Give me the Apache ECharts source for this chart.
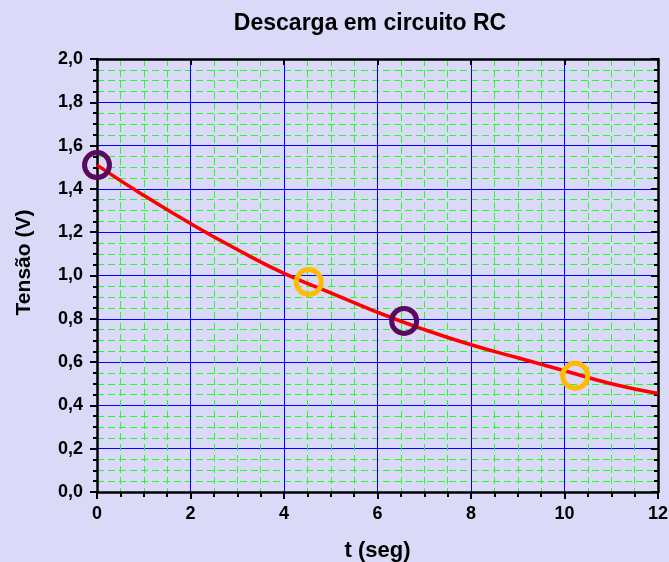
<!DOCTYPE html>
<html>
<head>
<meta charset="utf-8">
<script src="https://cdn.jsdelivr.net/npm/echarts@6/dist/echarts.min.js"></script>
<style>
  html, body { margin: 0; padding: 0; background: #DADAF8; overflow: hidden; }
  #chart { width: 669px; height: 562px; }
</style>
</head>
<body>
<div id="chart"></div>
<script>
// Discharge curve of the capacitor, sampled along the fitted line
const curveT = [0, 1, 2, 3, 4, 5, 6, 7, 8, 9, 10, 11, 12];
const curveV = [1.51, 1.37, 1.24, 1.12, 1.01, 0.92, 0.83, 0.75, 0.68, 0.62, 0.56, 0.50, 0.455];

// Measured points, two groups
const purpleT = [0, 6.57];
const purpleV = [1.51, 0.79];
const orangeT = [4.53, 10.23];
const orangeV = [0.97, 0.537];

const xTicks = [0, 2, 4, 6, 8, 10, 12];
const yTicks = [0.0, 0.2, 0.4, 0.6, 0.8, 1.0, 1.2, 1.4, 1.6, 1.8, 2.0];

const zip = (a, b) => a.map((v, i) => [v, b[i]]);
const font = '"Liberation Sans", Arial, sans-serif';

const chart = echarts.init(document.getElementById('chart'), null, { renderer: 'canvas' });

const axisLine = { show: true, onZero: false, lineStyle: { color: '#000', width: 2.5 } };
const minorGrid = { show: true, lineStyle: { color: '#22FF22', width: 1, type: [7, 4] } };

chart.setOption({
  backgroundColor: '#DADAF8',
  animation: false,
  title: {
    text: 'Descarga em circuito RC',
    left: 365, top: 7, textAlign: 'center',
    textStyle: { fontFamily: font, fontSize: 23, fontWeight: 'bold', color: '#000' }
  },
  grid: { left: 97, right: 11, top: 59, bottom: 70, containLabel: false, outerBoundsMode: 'none' },
  xAxis: [{
    type: 'value', min: xTicks[0], max: xTicks[xTicks.length - 1], interval: 2,
    name: 't (seg)', nameLocation: 'middle', nameGap: 48,
    nameTextStyle: { fontFamily: font, fontSize: 22, fontWeight: 'bold', color: '#000' },
    axisLine: axisLine,
    axisTick: { show: true, inside: false, length: 7, lineStyle: { color: '#000', width: 2 } },
    minorTick: { show: true, splitNumber: 4, length: 5, lineStyle: { color: '#000', width: 2 } },
    axisLabel: { margin: 13, fontFamily: font, fontSize: 18, fontWeight: 'bold', color: '#000' },
    splitLine: { show: true, lineStyle: { color: '#0000FF', width: 1 } },
    minorSplitLine: minorGrid
  }, {
    type: 'value', position: 'top', min: 0, max: 12, interval: 2,
    axisLine: axisLine,
    axisTick: { show: true, inside: true, length: 6, lineStyle: { color: '#000', width: 2 } },
    axisLabel: { show: false }, splitLine: { show: false }
  }],
  yAxis: [{
    type: 'value', min: yTicks[0], max: yTicks[yTicks.length - 1], interval: 0.2,
    name: 'Tensão (V)', nameLocation: 'middle', nameGap: 62, nameRotate: 90,
    nameTextStyle: {
      fontFamily: font, fontSize: 21, fontWeight: 'bold', color: '#000',
      padding: [0, 0, 0, 26]
    },
    axisLine: axisLine,
    axisTick: { show: true, inside: false, length: 7, lineStyle: { color: '#000', width: 2 } },
    minorTick: { show: true, splitNumber: 4, length: 4, lineStyle: { color: '#000', width: 2 } },
    axisLabel: {
      margin: 14, fontFamily: font, fontSize: 18, fontWeight: 'bold', color: '#000',
      formatter: v => v.toFixed(1).replace('.', ',')
    },
    splitLine: { show: true, lineStyle: { color: '#0000FF', width: 1 } },
    minorSplitLine: minorGrid
  }, {
    type: 'value', position: 'right', min: 0, max: 2, interval: 0.2,
    axisLine: axisLine,
    axisTick: { show: true, inside: true, length: 7, lineStyle: { color: '#000', width: 2 } },
    minorTick: { show: true, splitNumber: 4, length: 4, lineStyle: { color: '#000', width: 2 } },
    axisLabel: { show: false }, splitLine: { show: false }
  }],
  series: [{
    type: 'line', data: zip(curveT, curveV), smooth: true, showSymbol: false,
    lineStyle: { color: '#FF0000', width: 3.5 }, z: 3
  }, {
    type: 'scatter', data: zip(purpleT, purpleV), symbol: 'circle', symbolSize: 25,
    itemStyle: { color: 'rgba(0,0,0,0)', borderColor: '#5A0A5C', borderWidth: 5, opacity: 1 }, z: 4
  }, {
    type: 'scatter', data: zip(orangeT, orangeV), symbol: 'circle', symbolSize: 25,
    itemStyle: { color: 'rgba(0,0,0,0)', borderColor: '#FFBB00', borderWidth: 5, opacity: 1 }, z: 4
  }]
});
</script>
</body>
</html>
